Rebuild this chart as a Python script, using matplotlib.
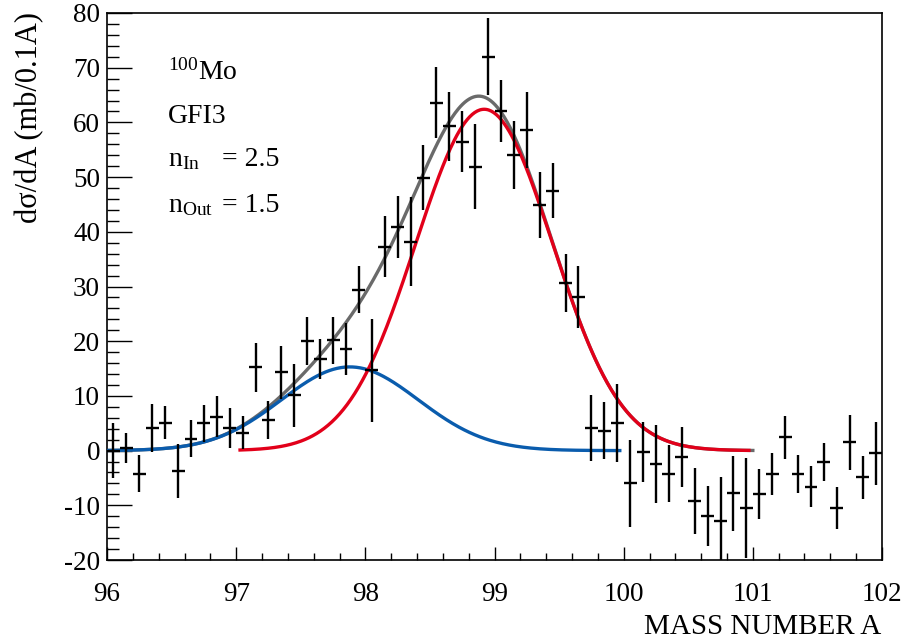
import numpy as np
import matplotlib
matplotlib.use("Agg")
import matplotlib.pyplot as plt
from matplotlib.ticker import MultipleLocator

plt.rcParams['font.family'] = ['Liberation Serif', 'DejaVu Serif']
plt.rcParams['mathtext.fontset'] = 'custom'
plt.rcParams['mathtext.rm'] = 'Liberation Serif'
plt.rcParams['mathtext.it'] = 'Liberation Serif:italic'
plt.rcParams['axes.unicode_minus'] = False

# measured cross sections, bins of 0.1 in A
mass = np.round(np.arange(96.05, 102.0, 0.1), 2)
xsec = [0.0, 0.5, -4.2, 4.1, 5.1, -3.7, 2.2, 5.0, 6.2, 4.1,
        3.3, 15.2, 5.6, 14.3, 10.1, 20.1, 16.7, 20.2, 18.6, 29.4,
        14.7, 37.3, 40.9, 38.2, 49.9, 63.6, 59.3, 56.5, 51.9, 72.0,
        62.1, 54.0, 58.6, 44.9, 47.5, 30.6, 28.1, 4.1, 3.6, 5.0,
        -6.0, -0.2, -2.4, -4.2, -1.2, -9.2, -12.0, -12.8, -7.8, -10.5,
        -7.9, -4.3, 2.4, -4.3, -6.6, -2.1, -10.5, 1.5, -4.9, -0.5]
xsec_err = [5.1, 2.7, 3.4, 4.4, 3.0, 4.9, 3.4, 3.4, 3.8, 3.7,
            3.0, 4.4, 3.4, 4.9, 5.8, 4.4, 3.7, 4.3, 4.7, 4.3,
            9.4, 5.5, 5.7, 8.1, 5.9, 6.5, 6.3, 5.5, 7.8, 7.0,
            5.6, 6.2, 6.9, 6.0, 5.0, 5.3, 5.6, 6.0, 5.2, 7.1,
            8.0, 5.5, 7.1, 5.2, 5.5, 6.1, 5.5, 8.0, 6.9, 9.1,
            4.6, 3.9, 3.9, 3.5, 3.7, 3.5, 3.8, 5.0, 3.9, 5.8]

# gaussian fit components: amplitude, mean, sigma, range
g1_amp, g1_mean, g1_sig, g1_range = 15.3, 97.88, 0.53, (96.0, 99.97)
g2_amp, g2_mean, g2_sig, g2_range = 62.4, 98.92, 0.53, (97.03, 100.97)


def gaus(x, a, m, s):
    return a * np.exp(-0.5 * ((x - m) / s) ** 2)


fig = plt.figure(figsize=(9.06, 6.42), dpi=100)
ax = fig.add_axes([107/906, 82/642, 775/906, 547/642])

xs = np.linspace(96.0, 101.0, 600)
ax.plot(xs, gaus(xs, g1_amp, g1_mean, g1_sig) + gaus(xs, g2_amp, g2_mean, g2_sig),
        color='#6a6a6a', lw=2.4, zorder=2)
x1 = np.linspace(*g1_range, 400)
ax.plot(x1, gaus(x1, g1_amp, g1_mean, g1_sig), color='#0a5cad', lw=2.4, zorder=3)
x2 = np.linspace(*g2_range, 400)
ax.plot(x2, gaus(x2, g2_amp, g2_mean, g2_sig), color='#e2001a', lw=2.4, zorder=4)

ax.errorbar(mass, xsec, yerr=xsec_err, xerr=0.05, fmt='none', ecolor='black',
            elinewidth=1.7, capsize=0, zorder=5)

ax.set_xlim(96, 102)
ax.set_ylim(-20, 80)
ax.xaxis.set_major_locator(MultipleLocator(1))
ax.xaxis.set_minor_locator(MultipleLocator(0.2))
ax.yaxis.set_major_locator(MultipleLocator(10))
ax.yaxis.set_minor_locator(MultipleLocator(2))
ax.tick_params(axis='x', which='major', direction='in', length=9.5, width=1,
               labelsize=19.5, pad=15.5)
ax.tick_params(axis='x', which='minor', direction='in', length=5, width=1)
ax.tick_params(axis='y', which='major', direction='in', length=18, width=1,
               labelsize=19.5, pad=5)
ax.tick_params(axis='y', which='minor', direction='in', length=8.6, width=1)
for sp in ax.spines.values():
    sp.set_linewidth(1.2)

fig.text(881/906, 1 - 634/642, 'MASS NUMBER A', fontsize=21,
         ha='right', va='baseline')
fig.text(30/906, 1 - 12/642, 'd\u03c3/dA (mb/0.1A)', fontsize=22,
         rotation=90, ha='center', va='top')

fig.text(168/906, 1 - 80/642, r'$^{100}$Mo', fontsize=20, va='baseline')
fig.text(168/906, 1 - 123/642, 'GFI3', fontsize=20, va='baseline')
fig.text(168/906, 1 - 166/642, r'n$_{\mathrm{In}}$', fontsize=20, va='baseline')
fig.text(222/906, 1 - 166/642, '= 2.5', fontsize=20, va='baseline')
fig.text(168/906, 1 - 212/642, r'n$_{\mathrm{Out}}$', fontsize=20, va='baseline')
fig.text(222/906, 1 - 212/642, '= 1.5', fontsize=20, va='baseline')

fig.savefig('out.png', dpi=100)
